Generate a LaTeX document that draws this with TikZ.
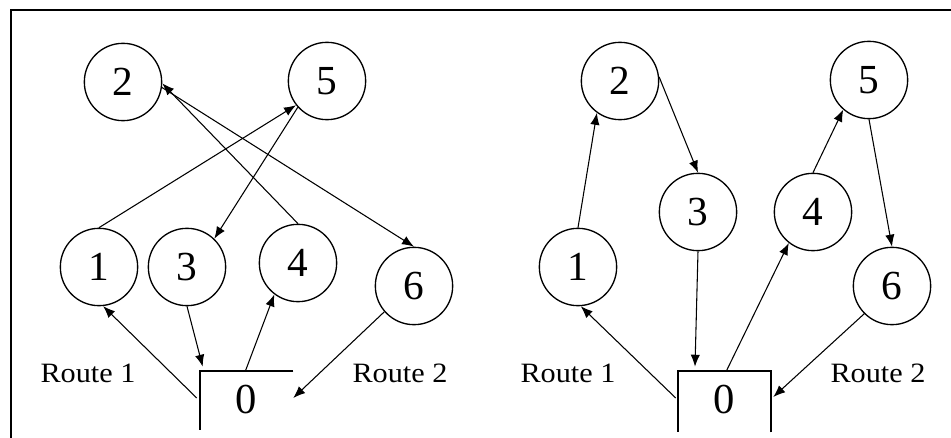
\documentclass[tikz,border=0pt]{standalone}
\usepackage{fontspec}
\setmainfont{Liberation Serif}
\usetikzlibrary{arrows.meta,calc}
\tikzset{
  stn/.style={circle,draw,line width=1pt,minimum size=58pt,inner sep=0pt,font=\fontsize{31}{31}\selectfont},
  depot/.style={rectangle,minimum width=69.75pt,minimum height=43.5pt,inner sep=0pt,font=\fontsize{32}{32}\selectfont},
  edge/.style={line width=0.8pt,-{Latex[length=9pt,width=7pt]}},
  side/.style={line width=1.5pt},
  lbl/.style={font=\fontsize{21}{21}\selectfont,xscale=1.08}
}
\begin{document}
\begin{tikzpicture}[x=0.75pt,y=-0.75pt]
\useasboundingbox (0,0) rectangle (951,438);
\draw[line width=1.5pt] (11,438) -- (11,10) -- (951,10);
% left panel
\node[stn] (a2) at (123,82) {2};
\node[stn] (a5) at (327,81) {5};
\node[stn] (a1) at (99,267) {1};
\node[stn] (a3) at (187,267) {3};
\node[stn] (a4) at (298,263) {4};
\node[stn] (a6) at (414,286) {6};
\node[depot] (a0) at (246.5,400) {0};
\draw[side] (a0.north east) -- (a0.north west) -- ($(a0.south west)+(0,1)$);
\node[lbl] (ar1) at (88,373) {Route 1};
\node[lbl] (ar2) at (400,373) {Route 2};
\draw[edge] ($(a0.west)+(-3,-2)$) -- (a1.-84);
\draw[edge] (a1.north) -- (a5.218);
\draw[edge] (a5.222) -- (a3.46);
\draw[edge] (a3.south) -- ($(a0.north west)+(3,-4)$);
\draw[edge] ($(a0.north)+(-1,0)$) -- (a4.233);
\draw[edge] (a4.north) -- (a2.-2);
\draw[edge] (a2.-8) -- (a6.north);
\draw[edge] (a6.221) -- ($(a0.east)+(0,-2)$);
% right panel
\node[stn] (b2) at (620,81) {2};
\node[stn] (b5) at (869,80) {5};
\node[stn] (b1) at (578,267) {1};
\node[stn] (b3) at (698,212) {3};
\node[stn] (b4) at (813,212) {4};
\node[stn] (b6) at (892,286) {6};
\node[depot] (b0) at (724.5,400) {0};
\draw[side] ($(b0.south east)+(0,3)$) -- (b0.north east) -- (b0.north west) -- ($(b0.south west)+(0,3)$);
\node[lbl] (br1) at (568,373) {Route 1};
\node[lbl] (br2) at (878,373) {Route 2};
\draw[edge] ($(b0.west)+(-2,-2)$) -- (b1.-86);
\draw[edge] (b1.north) -- (b2.234);
\draw[edge] (b2.6) -- (b3.north);
\draw[edge] (b3.south) -- ($(b3.south |- b0.north)+(-3,-4)$);
\draw[edge] ($(b0.north)+(2,0)$) -- (b4.232);
\draw[edge] (b4.north) -- (b5.229);
\draw[edge] (b5.south) -- (b6.north);
\draw[edge] (b6.225) -- ($(b0.east)+(2,-3)$);
\end{tikzpicture}
\end{document}
